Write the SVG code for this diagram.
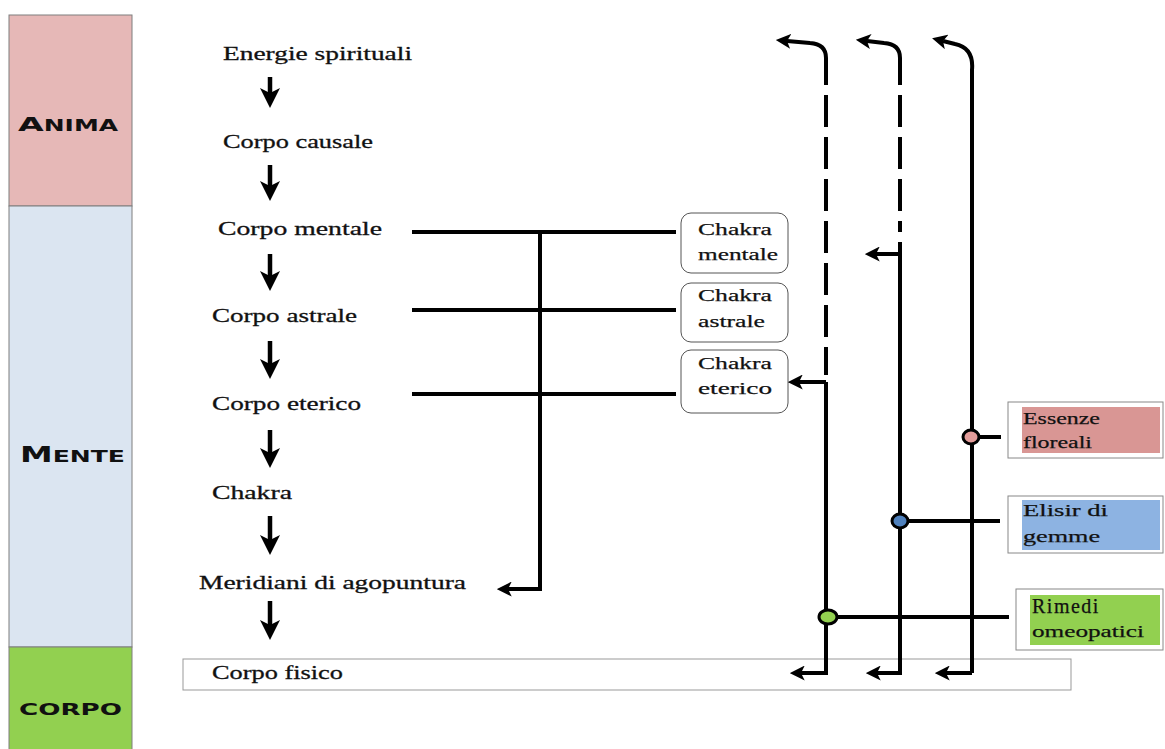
<svg xmlns="http://www.w3.org/2000/svg" width="1165" height="749" viewBox="0 0 1165 749">
<style>
.lbl{font-family:"Liberation Serif","Times New Roman",serif;font-size:19.5px;fill:#111;stroke:#111;stroke-width:0.3}
.sm{font-family:"Liberation Serif","Times New Roman",serif;font-size:17.5px;fill:#111;stroke:#111;stroke-width:0.25}
.hd{font-family:"DejaVu Sans","Liberation Sans",sans-serif;font-weight:bold;fill:#111}
.ln{fill:none;stroke:#000;stroke-width:4}
.dash{fill:none;stroke:#000;stroke-width:4;stroke-dasharray:32 10}
.arr{fill:none;stroke:#000;stroke-width:4;marker-end:url(#ah)}
.darr{fill:none;stroke:#000;stroke-width:4.5;marker-end:url(#dh)}
.cbox{fill:#fff;stroke:#555;stroke-width:1}
.obox{fill:#fff;stroke:#888;stroke-width:1}
.dot{stroke:#000;stroke-width:3}
</style>
<defs>
<marker id="ah" viewBox="0 0 12 12" refX="3" refY="6" markerWidth="15" markerHeight="15" markerUnits="userSpaceOnUse" orient="auto"><path d="M0,0 L12,6 L0,12 L3,6 Z" fill="#000"/></marker>
<marker id="dh" viewBox="0 0 12 12" refX="3" refY="6" markerWidth="20" markerHeight="20" markerUnits="userSpaceOnUse" orient="auto"><path d="M0,0 L12,6 L0,12 L3,6 Z" fill="#000"/></marker>
</defs>
<rect width="1165" height="749" fill="#fff"/>

<g id="col-anima">
<rect x="9" y="15" width="123" height="191" fill="#e6b8b7" stroke="#7f7f7f" stroke-width="1"/>
<text class="hd" x="18" y="131" textLength="100" lengthAdjust="spacingAndGlyphs"><tspan font-size="20">A</tspan><tspan font-size="15">NIMA</tspan></text>
</g>
<g id="col-mente">
<rect x="9" y="206" width="123" height="441" fill="#dbe5f1" stroke="#7f7f7f" stroke-width="1"/>
<text class="hd" x="20" y="462" textLength="105" lengthAdjust="spacingAndGlyphs"><tspan font-size="21">M</tspan><tspan font-size="16">ENTE</tspan></text>
</g>
<g id="col-corpo">
<rect x="9" y="647" width="123" height="110" fill="#92d050" stroke="#7f7f7f" stroke-width="1"/>
<text class="hd" x="19" y="715" font-size="16" textLength="103" lengthAdjust="spacingAndGlyphs">CORPO</text>
</g>

<g id="n-fisico">
<rect x="183" y="659" width="888" height="31" fill="#fff" stroke="#999" stroke-width="1"/>
<text class="lbl" x="212" y="679" textLength="131" lengthAdjust="spacingAndGlyphs">Corpo fisico</text>
</g>
<g id="n-energie"><text class="lbl" x="223" y="60" textLength="189" lengthAdjust="spacingAndGlyphs">Energie spirituali</text></g>
<g id="n-causale"><text class="lbl" x="223" y="148" textLength="150" lengthAdjust="spacingAndGlyphs">Corpo causale</text></g>
<g id="n-mentale"><text class="lbl" x="218" y="235" textLength="164" lengthAdjust="spacingAndGlyphs">Corpo mentale</text></g>
<g id="n-astrale"><text class="lbl" x="212" y="322" textLength="145" lengthAdjust="spacingAndGlyphs">Corpo astrale</text></g>
<g id="n-eterico"><text class="lbl" x="212" y="410" textLength="149" lengthAdjust="spacingAndGlyphs">Corpo eterico</text></g>
<g id="n-chakra"><text class="lbl" x="212" y="499" textLength="80" lengthAdjust="spacingAndGlyphs">Chakra</text></g>
<g id="n-meridiani"><text class="lbl" x="199" y="589" textLength="267" lengthAdjust="spacingAndGlyphs">Meridiani di agopuntura</text></g>

<g id="n-chakra-mentale">
<rect class="cbox" x="681" y="213" width="107" height="60" rx="10"/>
<text class="sm" x="698" y="235" textLength="74" lengthAdjust="spacingAndGlyphs">Chakra</text>
<text class="sm" x="698" y="260" textLength="80" lengthAdjust="spacingAndGlyphs">mentale</text>
</g>
<g id="n-chakra-astrale">
<rect class="cbox" x="681" y="283" width="107" height="59" rx="10"/>
<text class="sm" x="698" y="301" textLength="74" lengthAdjust="spacingAndGlyphs">Chakra</text>
<text class="sm" x="698" y="327" textLength="67" lengthAdjust="spacingAndGlyphs">astrale</text>
</g>
<g id="n-chakra-eterico">
<rect class="cbox" x="681" y="350" width="107" height="63" rx="10"/>
<text class="sm" x="698" y="369" textLength="74" lengthAdjust="spacingAndGlyphs">Chakra</text>
<text class="sm" x="698" y="394" textLength="74" lengthAdjust="spacingAndGlyphs">eterico</text>
</g>

<g id="n-essenze">
<rect class="obox" x="1008" y="402" width="155" height="56"/>
<rect x="1022" y="407" width="138" height="46" fill="#d99694"/>
<text class="sm" x="1023" y="424" textLength="77" lengthAdjust="spacingAndGlyphs">Essenze</text>
<text class="sm" x="1023" y="448" textLength="69" lengthAdjust="spacingAndGlyphs">floreali</text>
</g>
<g id="n-elisir">
<rect class="obox" x="1008" y="496" width="155" height="57"/>
<rect x="1022" y="500" width="138" height="50" fill="#8db3e2"/>
<text class="sm" x="1023" y="516" textLength="85" lengthAdjust="spacingAndGlyphs">Elisir di</text>
<text class="sm" x="1023" y="542" textLength="77" lengthAdjust="spacingAndGlyphs">gemme</text>
</g>
<g id="n-rimedi">
<rect class="obox" x="1016" y="589" width="147" height="61"/>
<rect x="1030" y="595" width="130" height="50" fill="#92d050"/>
<text x="1032" y="613" font-family="Liberation Serif, serif" font-size="20" fill="#111" stroke="#111" stroke-width="0.25" letter-spacing="1.5">Rimedi</text>
<text class="sm" x="1032" y="637" textLength="112" lengthAdjust="spacingAndGlyphs">omeopatici</text>
</g>

<g id="connectors">
<path class="darr" d="M270,77 V93"/>
<path class="darr" d="M270,165 V186"/>
<path class="darr" d="M270,254 V276"/>
<path class="darr" d="M270,341 V364"/>
<path class="darr" d="M270,430 V453"/>
<path class="darr" d="M270,516 V540"/>
<path class="darr" d="M270,601 V625"/>

<path class="ln" stroke-width="3.5" d="M412,232 H676"/>
<path class="ln" stroke-width="3.5" d="M412,310 H676"/>
<path class="ln" stroke-width="3.5" d="M412,394 H676"/>
<path class="arr" d="M540,232 V589 H508"/>

<path class="arr" d="M826,85 V58 Q826,44 810,43 L787,41"/>
<path class="dash" d="M826,95 V375"/>
<path class="arr" d="M826,382 H799"/>
<path class="arr" d="M826,382 V673 H801"/>

<path class="arr" d="M900,85 V58 Q900,44 884,43 L867,41"/>
<path class="dash" d="M900,95 V232"/>
<path class="arr" d="M900,254 H876"/>
<path class="arr" d="M900,242 V673 H877"/>

<path class="arr" d="M972,673 V70 Q974,48 955,44 L943,41"/>
<path class="arr" d="M972,673 H946"/>

<path class="ln" stroke-width="3" d="M979,437 H1001"/>
<path class="ln" stroke-width="3" d="M908,521 H1000"/>
<path class="ln" stroke-width="3" d="M836,617 H1009"/>
<ellipse class="dot" cx="971" cy="437" rx="8" ry="7" fill="#e39c9a"/>
<ellipse class="dot" cx="900" cy="521" rx="8" ry="7" fill="#4f81bd"/>
<ellipse class="dot" cx="828" cy="617" rx="9" ry="7" fill="#92d050"/>
</g>
</svg>
